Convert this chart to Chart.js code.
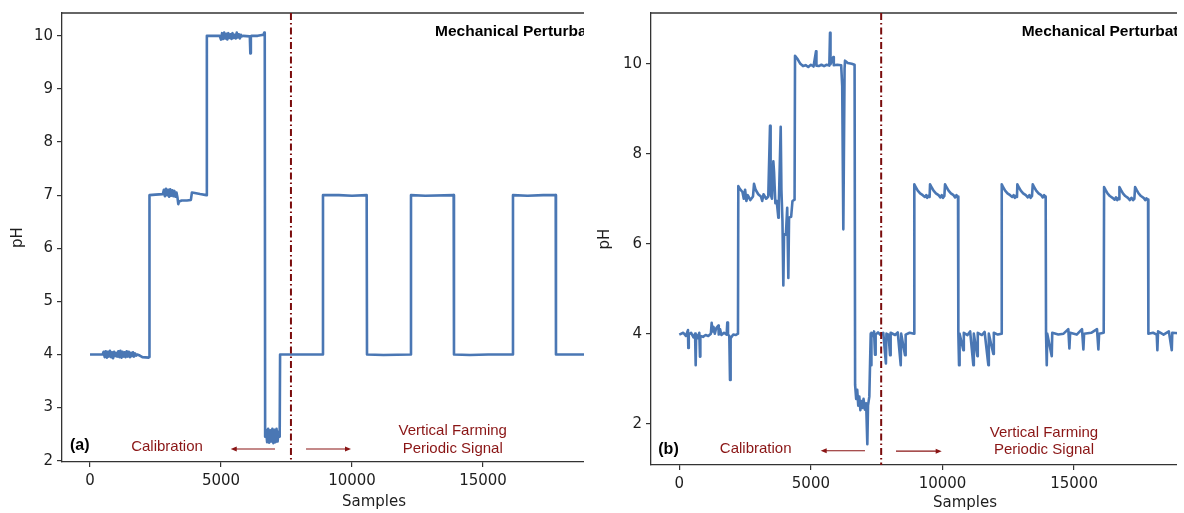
<!DOCTYPE html>
<html>
<head>
<meta charset="utf-8">
<script src="https://cdn.jsdelivr.net/npm/chart.js@4/dist/chart.umd.min.js"></script>
<style>
body { margin: 0; background: #fff; }
#wrap { position: relative; width: 1184px; height: 513px; overflow: hidden; background: #fff; }
.panel { position: absolute; top: 0; height: 513px; overflow: hidden; }
#panel_a { left: 0; width: 584px; }
#panel_b { left: 590px; width: 587px; }
canvas { position: absolute; left: 0; top: 0; }
</style>
</head>
<body>
<div id="wrap">
  <div class="panel" id="panel_a"><canvas id="chart_a"></canvas></div>
  <div class="panel" id="panel_b"><canvas id="chart_b"></canvas></div>
</div>
<script>
// ---- data ----
var x_ticks = [0, 5000, 10000, 15000, 20000];
var y_ticks_a = [2, 3, 4, 5, 6, 7, 8, 9, 10];
var y_ticks_b = [2, 4, 6, 8, 10];
var split_sample = 7670;

// (a) mechanical perturbation, smooth sensor
var samples_a = [0, 480, 520, 560, 600, 640, 680, 720, 760, 800, 840, 880, 920, 960, 1000, 1040, 1080, 1120, 1160, 1200,
  1240, 1280, 1320, 1360, 1400, 1440, 1480, 1520, 1560, 1600, 1640, 1680, 1720, 1760, 1800, 1900, 2000, 2240,
  2260, 2270, 2500, 2780, 2820, 2860, 2900, 2940, 2980, 3020, 3060, 3100, 3140, 3180, 3220, 3260, 3300, 3340,
  3370, 3400, 3500, 3700, 3850, 3890, 4000, 4200, 4440, 4455, 4465, 4700, 4950,
  5000, 5040, 5080, 5120, 5160, 5200, 5240, 5280, 5320, 5360, 5400, 5440, 5480, 5520, 5560, 5600, 5640, 5680, 5720, 5760, 5800, 5850,
  6100, 6120, 6140, 6160, 6400, 6620, 6650, 6670, 6685,
  6720, 6760, 6800, 6840, 6880, 6920, 6960, 7000, 7040, 7080, 7120, 7160, 7200, 7240, 7255,
  8000, 8880, 8893, 9500, 10000, 10560, 10573, 11200, 12240, 12252, 12800, 13880, 13893, 14500, 15200, 16130,
  16145, 16700, 17300, 17775, 17786, 18300, 19500];
var ph_a = [4.0, 4.0, 4.05, 3.95, 4.06, 3.94, 4.05, 3.96, 4.07, 3.95, 4.04, 3.93, 4.05, 3.97, 4.03, 3.96, 4.06, 3.95, 4.07, 3.94,
  4.05, 3.96, 4.04, 3.95, 4.06, 3.96, 4.05, 3.95, 4.03, 3.97, 4.04, 3.96, 4.02, 3.98, 4.0, 3.98, 3.95, 3.94,
  3.95, 7.0, 7.01, 7.02, 7.1, 6.98, 7.12, 7.0, 7.1, 6.97, 7.11, 6.99, 7.09, 6.98, 7.08, 6.97, 7.05, 6.95,
  6.83, 6.88, 6.9, 6.9, 6.91, 7.05, 7.04, 7.02, 7.0, 7.0, 10.0, 10.0, 10.0,
  9.93, 10.05, 9.94, 10.06, 9.95, 10.04, 9.93, 10.05, 9.96, 10.03, 9.94, 10.05, 9.96, 10.02, 9.95, 10.06, 9.97, 10.03, 9.95, 10.02, 9.99, 10.0,
  9.99, 9.67, 9.98, 10.0, 10.0, 10.02, 10.06, 10.0, 2.45,
  2.58, 2.35, 2.6, 2.34, 2.57, 2.36, 2.6, 2.33, 2.58, 2.35, 2.6, 2.36, 2.55, 2.45, 4.0,
  4.0, 4.0, 7.0, 7.0, 6.99, 7.0, 4.0, 3.99, 4.0, 7.0, 6.99, 7.0, 4.0, 3.99, 4.0, 4.0,
  7.0, 6.99, 7.0, 7.0, 4.0, 4.0, 4.0];

// (b) mechanical perturbation, noisy sensor
var samples_b = [0, 150, 250, 330, 342, 360, 450, 540, 600, 623, 640, 700, 760, 787, 800, 900, 1000, 1100, 1200, 1230,
  1260, 1300, 1350, 1400, 1483, 1500, 1550, 1600, 1700, 1800, 1824, 1850, 1900, 1927, 1950, 2050, 2150, 2230,
  2242, 2300, 2400, 2450, 2500, 2550, 2600, 2700, 2800, 2839, 2900, 3000, 3100, 3150, 3200, 3300, 3380, 3447,
  3470, 3520, 3573, 3600, 3650, 3700, 3763, 3780, 3853, 3880, 3920, 3953, 3980, 4050, 4100, 4143, 4170, 4250,
  4300, 4380, 4397, 4500, 4600, 4700, 4800, 4900, 5000, 5100, 5195, 5210, 5300, 5400, 5500, 5600, 5700, 5727,
  5745, 5852, 5870, 6000, 6150, 6190, 6232, 6280, 6297, 6400, 6550, 6660, 6680, 6720, 6760, 6800, 6840, 6880,
  6920, 6960, 7000, 7050, 7100, 7144, 7170, 7220, 7273, 7285, 7300, 7373, 7400, 7437, 7460, 7550, 7650, 7750,
  7850, 7870, 7950, 8007, 8030, 8200, 8300, 8413, 8430, 8577, 8600, 8750, 8920,
  8930, 8990, 9060, 9150, 9250, 9330, 9380, 9420, 9470, 9510,
  9527, 9590, 9660, 9750, 9850, 9920, 9970, 10020, 10070,
  10097, 10160, 10230, 10320, 10420, 10480, 10530, 10570, 10590,
  10602, 10629, 10650, 10793, 10810, 10950, 11050, 11172, 11190, 11324, 11340, 11500, 11600, 11742, 11760, 11932, 11950, 12100, 12240,
  12251, 12310, 12380, 12470, 12570, 12650, 12700, 12750, 12800, 12830,
  12844, 12905, 12975, 13065, 13165, 13240, 13300, 13350, 13400,
  13429, 13490, 13560, 13650, 13750, 13810, 13860, 13900, 13920,
  13934, 13961, 13980, 14151, 14170, 14400, 14600, 14780, 14821, 14850, 15100, 15300, 15353, 15380, 15650, 15870, 15923, 15950, 16125,
  16139, 16200, 16270, 16360, 16460, 16540, 16590, 16640, 16690, 16710,
  16722, 16785, 16855, 16945, 17045, 17120, 17180, 17240, 17290,
  17318, 17380, 17450, 17540, 17640, 17700, 17750, 17790, 17810,
  17822, 18000, 18140, 18164, 18190, 18400, 18600, 18711, 18730, 19200];
var ph_b = [3.98, 4.02, 3.95, 4.08, 3.68, 3.98, 4.02, 3.92, 4.0, 3.3, 3.98, 3.9, 4.02, 3.49, 3.95, 3.93, 3.97, 3.95, 4.0, 4.24,
  4.05, 4.15, 4.0, 4.12, 4.18, 3.98, 4.1, 3.97, 4.02, 3.98, 4.25, 3.98, 3.95, 2.97, 3.9, 3.98, 3.97, 4.0,
  7.28, 7.22, 7.15, 7.0, 7.2, 6.95, 7.08, 6.97, 7.05, 7.33, 7.2, 7.1, 7.05, 6.95, 7.1, 7.0, 7.05, 8.62,
  7.1, 7.0, 7.83, 7.6, 6.9, 6.95, 6.58, 6.85, 8.6, 7.2, 6.5, 5.07, 6.21, 6.2, 6.8, 5.24, 6.58, 6.6,
  6.95, 6.98, 10.18, 10.1, 10.0, 9.95, 9.97, 9.93, 9.98, 9.94, 10.28, 9.96, 9.95, 9.98, 9.95, 9.98, 9.96, 10.69,
  9.99, 10.15, 9.97, 9.98, 9.97, 9.5, 6.32, 9.9, 10.07, 10.02, 10.0, 9.98, 2.86, 2.55, 2.75, 2.4, 2.6, 2.3,
  2.5, 2.35, 2.55, 2.31, 2.45, 1.54, 2.4, 2.6, 4.0, 3.3, 4.02, 3.95, 4.05, 3.53, 3.98, 4.03, 3.97, 4.02,
  3.34, 4.0, 3.98, 3.52, 4.02, 3.97, 4.03, 3.3, 4.0, 3.52, 3.98, 4.02, 4.0,
  7.32, 7.25, 7.18, 7.12, 7.08, 7.04, 7.08, 7.02, 7.07, 7.04,
  7.32, 7.25, 7.18, 7.12, 7.08, 7.03, 7.08, 7.02, 7.06,
  7.32, 7.25, 7.18, 7.12, 7.08, 7.03, 7.08, 7.03, 7.05,
  4.0, 3.3, 4.0, 3.63, 4.02, 3.97, 4.05, 3.3, 4.0, 3.5, 4.02, 3.97, 4.04, 3.3, 4.0, 3.55, 4.02, 3.98, 4.0,
  7.32, 7.25, 7.18, 7.12, 7.08, 7.04, 7.08, 7.02, 7.07, 7.04,
  7.32, 7.25, 7.18, 7.12, 7.08, 7.03, 7.08, 7.02, 7.06,
  7.32, 7.25, 7.18, 7.12, 7.08, 7.03, 7.08, 7.03, 7.05,
  4.0, 3.3, 4.0, 3.5, 4.02, 3.98, 4.0, 4.1, 3.67, 4.02, 3.98, 4.1, 3.65, 4.0, 4.02, 4.1, 3.65, 4.0, 4.02,
  7.26, 7.19, 7.12, 7.06, 7.02, 6.98, 7.03, 6.97, 7.02, 6.99,
  7.26, 7.19, 7.12, 7.06, 7.02, 6.97, 7.02, 6.97, 7.0,
  7.26, 7.19, 7.12, 7.06, 7.02, 6.97, 7.01, 6.97, 6.98,
  4.0, 4.02, 3.98, 3.63, 4.05, 3.98, 4.05, 3.63, 4.02, 4.0];

// ---- look ----
var line_color = "#4a77b4";
var spine_color = "#333333";
var note_color = "#8a1515";
var text_color = "#1e1e1e";
var tick_font = { family: "DejaVu Sans", size: 15 };
var title_font = { family: "DejaVu Sans", size: 15 };

function draw_arrow(ctx, x1, x2, y) {
    var dir = x2 > x1 ? 1 : -1;
    ctx.beginPath();
    ctx.moveTo(x1, y);
    ctx.lineTo(x2 - dir * 4, y);
    ctx.stroke();
    ctx.beginPath();
    ctx.moveTo(x2, y);
    ctx.lineTo(x2 - dir * 6, y - 2.5);
    ctx.lineTo(x2 - dir * 6, y + 2.5);
    ctx.closePath();
    ctx.fill();
}

var overlay_plugin = {
    id: "overlay",
    afterDatasetsDraw: function(chart, args, o) {
        var ctx = chart.ctx;
        var a = chart.chartArea;
        var xs = chart.scales.x;
        var ys = chart.scales.y;
        ctx.save();
        // top spine
        ctx.strokeStyle = spine_color;
        ctx.lineWidth = 1.3;
        ctx.beginPath();
        ctx.moveTo(a.left, a.top);
        ctx.lineTo(a.right, a.top);
        ctx.stroke();
        // calibration / signal split
        var vx = xs.getPixelForValue(split_sample);
        ctx.strokeStyle = "#7a0c0c";
        ctx.lineWidth = 2;
        ctx.setLineDash([7, 3, 1.5, 3]);
        ctx.beginPath();
        ctx.moveTo(vx, a.top);
        ctx.lineTo(vx, a.bottom);
        ctx.stroke();
        ctx.setLineDash([]);
        // arrows
        ctx.strokeStyle = note_color;
        ctx.fillStyle = note_color;
        ctx.lineWidth = 1.1;
        draw_arrow(ctx, xs.getPixelForValue(o.arrow_left[0]), xs.getPixelForValue(o.arrow_left[1]), ys.getPixelForValue(o.arrow_left[2]));
        draw_arrow(ctx, xs.getPixelForValue(o.arrow_right[0]), xs.getPixelForValue(o.arrow_right[1]), ys.getPixelForValue(o.arrow_right[2]));
        // texts
        ctx.textBaseline = "middle";
        for (var i = 0; i < o.notes.length; i++) {
            var n = o.notes[i];
            ctx.font = n.font;
            ctx.fillStyle = n.color;
            ctx.textAlign = n.align;
            ctx.fillText(n.text, xs.getPixelForValue(n.x), ys.getPixelForValue(n.y));
        }
        ctx.restore();
    }
};

function make_notes(tag, tag_x, tag_y, cal_x, cal_y, vf_x, vf_y1, vf_y2, mp_x, mp_y) {
    return [
        { text: tag, x: tag_x, y: tag_y, font: "bold 16px 'Liberation Sans'", color: "#000", align: "left" },
        { text: "Calibration", x: cal_x, y: cal_y, font: "15px 'Liberation Sans'", color: note_color, align: "center" },
        { text: "Vertical Farming", x: vf_x, y: vf_y1, font: "15px 'Liberation Sans'", color: note_color, align: "center" },
        { text: "Periodic Signal", x: vf_x, y: vf_y2, font: "15px 'Liberation Sans'", color: note_color, align: "center" },
        { text: "Mechanical Perturbation", x: mp_x, y: mp_y, font: "bold 15.5px 'Liberation Sans'", color: "#000", align: "left" }
    ];
}

function setup_chart(canvas_id, samples, ph, cfg) {
    var points = [];
    for (var i = 0; i < samples.length; i++) {
        points.push({ x: samples[i], y: ph[i] });
    }
    var canvas = document.getElementById(canvas_id);
    canvas.width = 700;
    canvas.height = 513;
    canvas.style.width = "700px";
    canvas.style.height = "513px";
    return new Chart(canvas, {
        type: "line",
        data: {
            datasets: [{
                data: points,
                borderColor: line_color,
                borderWidth: 2.6,
                borderJoinStyle: "round",
                pointRadius: 0,
                tension: 0,
                fill: false
            }]
        },
        options: {
            responsive: false,
            animation: false,
            devicePixelRatio: 1,
            layout: { padding: { top: 11, right: cfg.pad_right, left: 0, bottom: 0 } },
            plugins: {
                legend: { display: false },
                tooltip: { enabled: false },
                overlay: cfg.overlay
            },
            scales: {
                x: {
                    type: "linear",
                    min: cfg.x_min,
                    max: cfg.x_max,
                    afterBuildTicks: function(s) { s.ticks = x_ticks.map(function(v) { return { value: v }; }); },
                    afterFit: function(s) { s.height = cfg.x_height; },
                    ticks: { font: tick_font, color: text_color, padding: 5, maxRotation: 0,
                             callback: function(v) { return String(v); } },
                    grid: { drawOnChartArea: false, drawTicks: true, tickLength: 5, color: spine_color, lineWidth: 1.2 },
                    border: { display: true, color: spine_color, width: 1.3 },
                    title: { display: true, text: "Samples", font: title_font, color: text_color, padding: { top: 0, bottom: cfg.title_x_pad } }
                },
                y: {
                    type: "linear",
                    min: cfg.y_min,
                    max: cfg.y_max,
                    afterBuildTicks: function(s) { s.ticks = cfg.y_ticks.map(function(v) { return { value: v }; }); },
                    afterFit: function(s) { s.width = cfg.y_width; },
                    ticks: { font: tick_font, color: text_color, padding: 4,
                             callback: function(v) { return String(v); } },
                    grid: { drawOnChartArea: false, drawTicks: true, tickLength: 5, color: spine_color, lineWidth: 1.2 },
                    border: { display: true, color: spine_color, width: 1.3 },
                    title: { display: true, text: "pH", font: title_font, color: text_color, padding: { top: cfg.title_y_pad, bottom: 0 } }
                }
            }
        },
        plugins: [overlay_plugin]
    });
}

setup_chart("chart_a", samples_a, ph_a, {
    x_min: -1069, x_max: 22749, y_min: 1.975, y_max: 10.43, y_ticks: y_ticks_a,
    y_width: 62, x_height: 51, pad_right: 14, title_y_pad: 9, title_x_pad: 2,
    overlay: {
        arrow_left: [7061, 5371, 2.22],
        arrow_right: [8245, 9962, 2.22],
        notes: make_notes("(a)", -763, 2.276, 2939, 2.26, 13845, 2.563, 2.22, 13169, 10.075)
    }
});

setup_chart("chart_b", samples_b, ph_b, {
    x_min: -1075, x_max: 22785, y_min: 1.08, y_max: 11.13, y_ticks: y_ticks_b,
    y_width: 61, x_height: 48, pad_right: 11, title_y_pad: 6, title_x_pad: 1,
    overlay: {
        arrow_left: [7055, 5372, 1.397],
        arrow_right: [8233, 9969, 1.388],
        notes: make_notes("(b)", -798, 1.425, 2902, 1.441, 13855, 1.795, 1.41, 13008, 10.71)
    }
});
</script>
</body>
</html>
